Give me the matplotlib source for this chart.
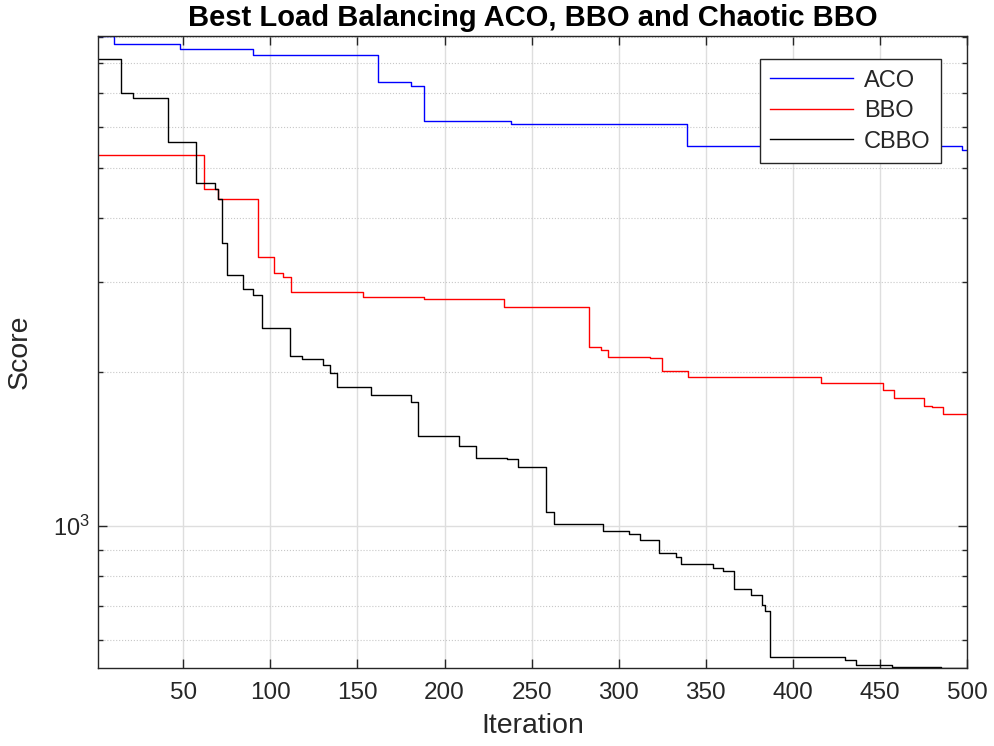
import matplotlib
matplotlib.use("Agg")
import matplotlib.pyplot as plt
from matplotlib.ticker import LogLocator, NullFormatter, FixedLocator

plt.rcParams['font.family'] = ['Liberation Sans', 'DejaVu Sans']
plt.rcParams['mathtext.default'] = 'regular'

# change points (iteration where the best score drops, new score)
aco_iter = [1, 10, 48, 90, 162, 181, 188, 238, 339, 497, 500]
aco_score = [9049, 8727, 8520, 8316, 7345, 7214, 6164, 6090, 5516, 5425, 5425]

bbo_iter = [1, 62, 70, 93, 102, 107, 112, 153, 188, 234, 283, 290, 294, 318, 325,
            340, 416, 452, 458, 475, 480, 486, 500]
bbo_score = [5313, 4560, 4352, 3353, 3116, 3070, 2864, 2801, 2776, 2674, 2237, 2207,
             2142, 2128, 2005, 1954, 1906, 1847, 1782, 1719, 1708, 1658, 1658]

cbbo_iter = [1, 14, 21, 41, 57, 68, 70, 72, 75, 84, 90, 95, 111, 118, 130, 134, 138,
             158, 181, 185, 208, 218, 236, 242, 258, 263, 291, 306, 312, 323, 333, 336,
             354, 360, 366, 376, 382, 384, 387, 430, 436, 457, 485, 500]
cbbo_score = [8168, 7010, 6855, 5623, 4685, 4560, 4360, 3571, 3087, 2900, 2822, 2441,
              2145, 2116, 2066, 1987, 1872, 1803, 1747, 1502, 1431, 1356, 1350, 1304,
              1067, 1012, 978, 966, 942, 886, 870, 845, 829, 817, 756, 733, 703, 684,
              556, 549, 537, 532, 529, 529]

x_ticks = [50, 100, 150, 200, 250, 300, 350, 400, 450, 500]

txt = '#262626'
fig = plt.figure(figsize=(9.95, 7.46), dpi=100)
ax = fig.add_axes([0.0985, 0.1046, 0.8734, 0.8471])

ax.step(aco_iter, aco_score, where='post', color='#0000ff', lw=1.0, label='ACO')
ax.step(bbo_iter, bbo_score, where='post', color='#ff0000', lw=1.0, label='BBO')
ax.step(cbbo_iter, cbbo_score, where='post', color='black', lw=1.0, label='CBBO')

ax.set_yscale('log')
ax.set_xlim(1, 500)
ax.set_ylim(529, 9049)

ax.set_xticks(x_ticks)
ax.yaxis.set_major_locator(FixedLocator([1000]))
ax.set_yticklabels([r'$10^3$'])
ax.yaxis.set_minor_locator(LogLocator(base=10, subs=range(2, 10), numticks=20))
ax.yaxis.set_minor_formatter(NullFormatter())

ax.grid(True, which='major', color='#dedede', lw=1.0, ls='-')
ax.grid(True, which='minor', axis='y', color='#c8c8c8', lw=0.8, ls=':')
ax.set_axisbelow(True)

ax.tick_params(which='both', direction='in', top=True, right=True, colors=txt)
ax.tick_params(which='major', length=6.5, width=1)
ax.tick_params(which='minor', length=3.5, width=1)
ax.tick_params(axis='x', labelsize=17.5, pad=10)
ax.tick_params(axis='y', labelsize=17, pad=6)
for s in ax.spines.values():
    s.set_color(txt)
    s.set_linewidth(1.0)

ax.set_xlabel('Iteration', fontsize=20.5, color=txt)
ax.set_ylabel('Score', fontsize=20.5, color=txt)
ax.xaxis.set_label_coords(0.5, -0.072)
ax.yaxis.set_label_coords(-0.075, 0.5)
ax.set_title('Best Load Balancing ACO, BBO and Chaotic BBO', fontsize=21,
             fontweight='bold', color='black', pad=7)

leg = ax.legend(loc='upper right', bbox_to_anchor=(0.970, 0.9636), fontsize=17,
                fancybox=False, edgecolor=txt, framealpha=1, handlelength=3.5,
                handletextpad=0.45, borderpad=0.45, labelspacing=0.36,
                borderaxespad=0)
leg.get_frame().set_linewidth(1.0)
for t in leg.get_texts():
    t.set_color(txt)

fig.savefig('out.png', dpi=100)
